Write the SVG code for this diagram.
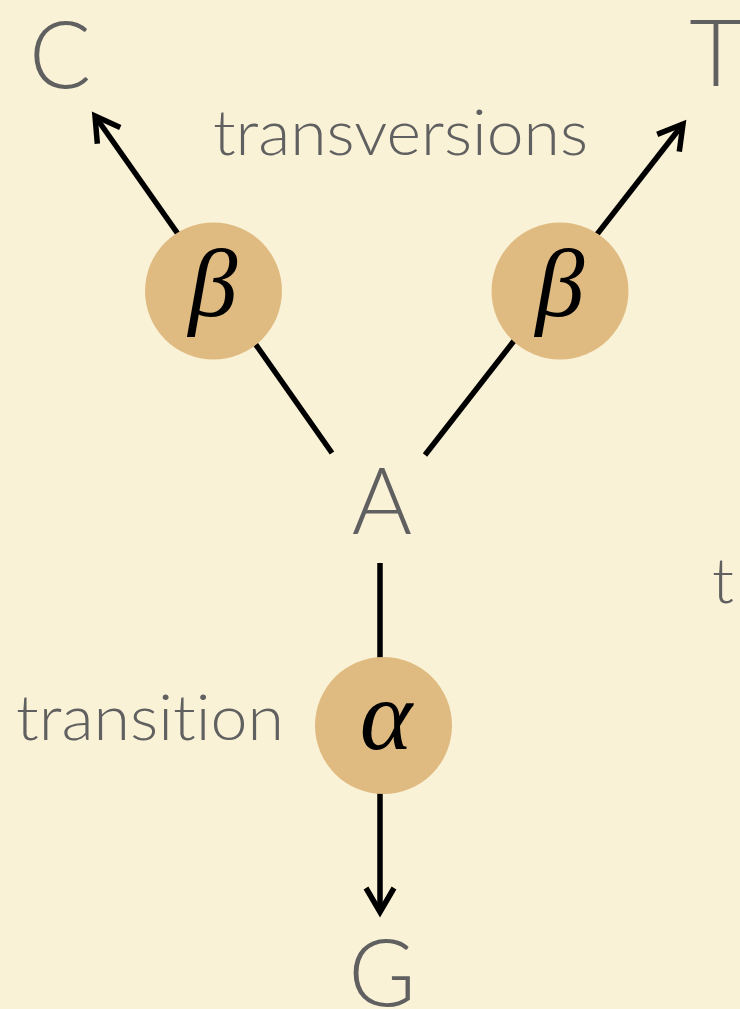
<svg xmlns="http://www.w3.org/2000/svg" width="740" height="1009" viewBox="0 0 740 1009">
  <style>
    .base { font-family: "Lato", "Liberation Sans", "DejaVu Sans", sans-serif; font-weight: 300; fill: #606060; font-size: 92px; text-anchor: middle; }
    .lbl { font-family: "Lato", "Liberation Sans", "DejaVu Sans", sans-serif; font-weight: 300; fill: #606060; font-size: 64px; font-variant-ligatures: none; font-feature-settings: "liga" 0, "clig" 0; }
    .rate { fill: #e0bb81; }
    .greek { font-family: "Liberation Serif", "DejaVu Serif", serif; font-style: italic; fill: #000; text-anchor: middle; }
    .edge { stroke: #000; stroke-width: 5.5; fill: none; }
  </style>
  <defs>
    <filter id="paper" x="0" y="0" width="100%" height="100%">
      <feTurbulence type="fractalNoise" baseFrequency="0.6" numOctaves="2" seed="3" result="n"/>
      <feColorMatrix in="n" type="matrix" values="0 0 0 0 0.94  0 0 0 0 0.89  0 0 0 0 0.76  0 0 0 0.15 0"/>
    </filter>
    <marker id="arr" markerUnits="userSpaceOnUse" markerWidth="60" markerHeight="60" viewBox="-30 -30 60 60" refX="0" refY="0" orient="auto" overflow="visible">
      <path d="M -24,-14 L 0,0 L -24,14" fill="none" stroke="#000" stroke-width="5.5" stroke-linejoin="miter"/>
    </marker>
  </defs>
  <rect width="740" height="1009" fill="#faf2d6"/>
  <rect width="740" height="1009" filter="url(#paper)"/>

  <g id="connectors">
    <line class="edge" x1="332" y1="453" x2="95" y2="116" marker-end="url(#arr)"/>
    <line class="edge" x1="425" y1="455" x2="683" y2="124" marker-end="url(#arr)"/>
    <line class="edge" x1="380" y1="563" x2="380" y2="912" marker-end="url(#arr)"/>
  </g>

  <g id="node-C"><text class="base" x="60" y="88">C</text></g>
  <g id="node-T"><text class="base" x="716" y="86">T</text></g>
  <g id="node-A"><text class="base" x="382" y="534">A</text></g>
  <g id="node-G"><text class="base" x="382" y="1006">G</text></g>

  <g id="rate-beta-left">
    <circle class="rate" cx="213.5" cy="291" r="68.5"/>
    <text class="greek" x="213" y="316" font-size="98">β</text>
  </g>
  <g id="rate-beta-right">
    <circle class="rate" cx="560" cy="291" r="68.5"/>
    <text class="greek" x="560" y="316" font-size="98">β</text>
  </g>
  <g id="rate-alpha">
    <circle class="rate" cx="383.5" cy="725.5" r="68.5"/>
    <text class="greek" x="386" y="749" font-size="100">α</text>
  </g>

  <g id="label-transversions"><text class="lbl" x="213" y="155" textLength="375" lengthAdjust="spacingAndGlyphs">transversions</text></g>
  <g id="label-transition"><text class="lbl" x="16" y="740" textLength="268" lengthAdjust="spacingAndGlyphs">transition</text></g>
  <g id="label-t"><text class="lbl" x="712" y="603">t</text></g>
</svg>
